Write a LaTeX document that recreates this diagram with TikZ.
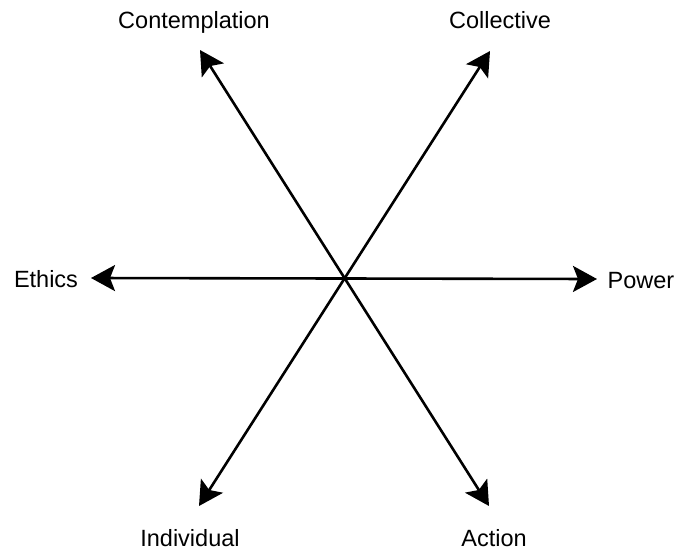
\documentclass[tikz,border=0pt]{standalone}
\usepackage{fontspec}
\setmainfont{Liberation Sans}
\usetikzlibrary{arrows.meta}
\begin{document}
\begin{tikzpicture}[x=1pt,y=-1pt,
  axis/.style={line width=2.6pt,{Stealth[length=24pt,width=26pt,inset=5pt]}-{Stealth[length=24pt,width=26pt,inset=5pt]}},
  lab/.style={anchor=base,inner sep=0pt,font=\fontsize{23.5}{28}\selectfont}]
\useasboundingbox (0,0) rectangle (677,552);
\coordinate (tl) at (200,50);
\coordinate (br) at (489,506);
\coordinate (tr) at (490,51);
\coordinate (bl) at (199,506);
\coordinate (lt) at (91,278);
\coordinate (rt) at (597,279);
\draw[axis] (tl) -- (br);
\draw[axis] (tr) -- (bl);
\draw[axis] (lt) -- (rt);
\node[lab] (contemplation) at (194,28) {Contemplation};
\node[lab] (collective) at (500,28) {Collective};
\node[lab] (ethics) at (46,287) {Ethics};
\node[lab] (power) at (641,288) {Power};
\node[lab] (individual) at (190,546) {Individual};
\node[lab] (action) at (494,546) {Action};
\end{tikzpicture}
\end{document}
